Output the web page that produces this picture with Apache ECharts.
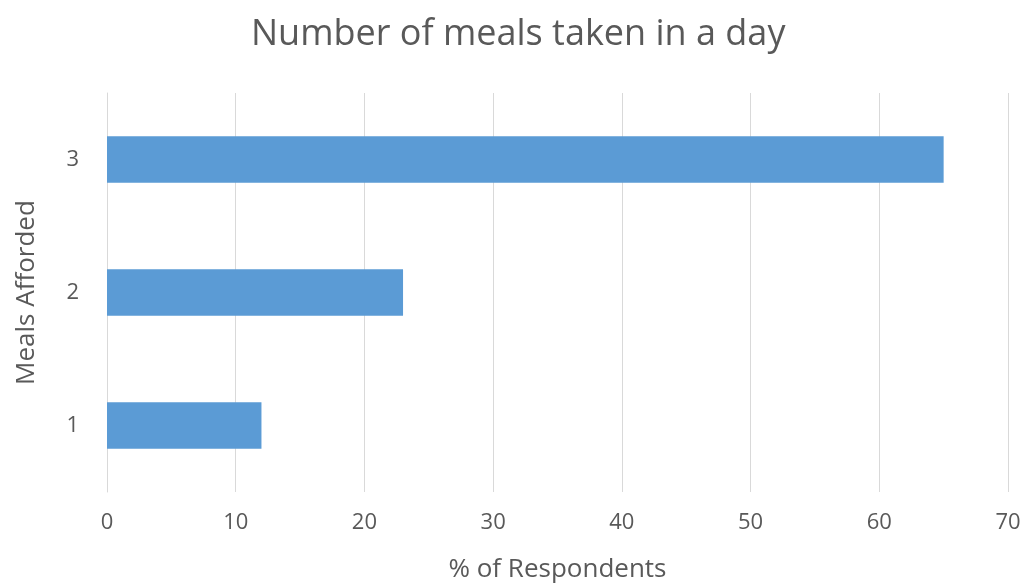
<!DOCTYPE html>
<html>
<head>
<meta charset="utf-8">
<script src="https://cdn.jsdelivr.net/npm/echarts@6/dist/echarts.min.js"></script>
<style>
  html, body { margin: 0; padding: 0; background: #fff; }
  #chart { width: 1022px; height: 583px; }
</style>
</head>
<body>
<div id="chart"></div>
<script>
var categories = ['1', '2', '3'];
var respondents = [12, 23, 65];
var xTicks = [0, 70, 10];

var chart = echarts.init(document.getElementById('chart'));
var textColor = '#595959';
var font = '"Open Sans", Lato, sans-serif';

chart.setOption({
    animation: false,
    title: {
        text: 'Number of meals taken in a day',
        left: 246,
        top: 12,
        textStyle: { color: textColor, fontSize: 36, fontWeight: 'normal', fontFamily: font }
    },
    grid: { left: 107, right: 14, top: 93, bottom: 91, outerBoundsMode: 'none' },
    xAxis: {
        type: 'value',
        min: xTicks[0],
        max: xTicks[1],
        interval: xTicks[2],
        name: '% of Respondents',
        nameLocation: 'middle',
        nameGap: 65,
        nameTextStyle: { color: textColor, fontSize: 26, fontFamily: font },
        axisLine: { show: false },
        axisTick: { show: false },
        axisLabel: { color: textColor, fontSize: 22, fontFamily: font, margin: 20 },
        splitLine: { lineStyle: { color: '#d9d9d9', width: 1 } }
    },
    yAxis: {
        type: 'category',
        data: categories,
        name: 'Meals Afforded',
        nameLocation: 'middle',
        nameGap: 67,
        nameTextStyle: { color: textColor, fontSize: 26, fontFamily: font },
        axisLine: { show: true, lineStyle: { color: '#d9d9d9' } },
        axisTick: { show: false },
        axisLabel: { color: textColor, fontSize: 22, fontFamily: font, margin: 28 }
    },
    series: [{
        type: 'bar',
        data: respondents,
        barCategoryGap: '65%',
        itemStyle: { color: '#5b9bd5' }
    }]
});
</script>
</body>
</html>
